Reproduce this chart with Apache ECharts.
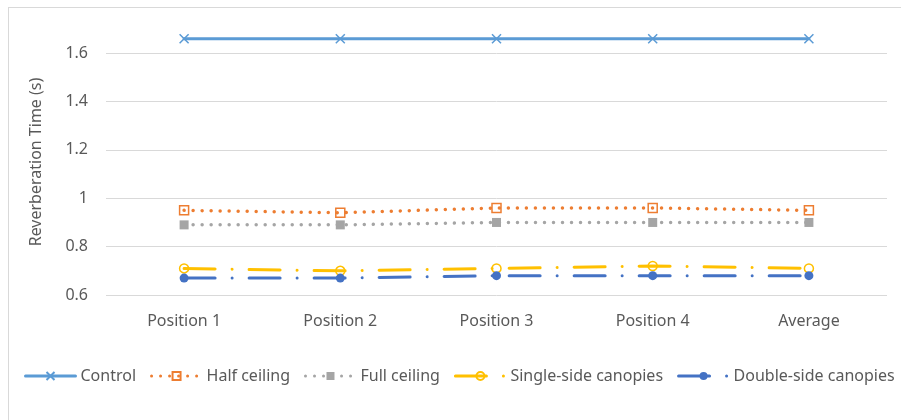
<!DOCTYPE html>
<html>
<head>
<meta charset="utf-8">
<script src="https://cdn.jsdelivr.net/npm/echarts@6/dist/echarts.min.js"></script>
<style>
  html, body { margin: 0; padding: 0; background: #fff; }
  #frame { position: absolute; left: 8px; top: 7px; width: 910px; height: 430px; border: 1px solid #d9d9d9; box-sizing: border-box; }
  #chart { position: absolute; left: 0; top: 0; width: 901px; height: 420px; }
</style>
</head>
<body>
<div id="frame"></div>
<div id="chart"></div>
<script>
  const categories = ['Position 1', 'Position 2', 'Position 3', 'Position 4', 'Average'];
  const control = [1.66, 1.66, 1.66, 1.66, 1.66];
  const halfCeiling = [0.95, 0.94, 0.96, 0.96, 0.95];
  const fullCeiling = [0.89, 0.89, 0.90, 0.90, 0.90];
  const singleSide = [0.71, 0.70, 0.71, 0.72, 0.71];
  const doubleSide = [0.67, 0.67, 0.68, 0.68, 0.68];

  const font = 'Noto Sans';
  const textColor = '#595959';
  const dashDot = [31, 17, 0.01, 17];
  const dotted = [0.01, 9];

  const chart = echarts.init(document.getElementById('chart'));

  function line(name, data, color, lineType, width, symbol, filled) {
    return {
      name, type: 'line', data,
      symbol, symbolSize: 9, showSymbol: true,
      lineStyle: { color, width, type: lineType, cap: 'round' },
      itemStyle: filled
        ? { color, borderColor: color, borderWidth: 0 }
        : { color: 'rgba(255,255,255,0)', borderColor: color, borderWidth: 1.5 },
      emphasis: { disabled: true },
      animation: false
    };
  }

  chart.setOption({
    animation: false,
    grid: { left: 106, right: 14, top: 29, bottom: 125 },
    legend: {
      bottom: 31, left: 19, width: 900, padding: 5,
      itemWidth: 50, itemHeight: 10, itemGap: 14,
      lineStyle: { width: 3 },
      textStyle: { color: textColor, fontSize: 16, fontFamily: font },
      data: ['Control', 'Half ceiling', 'Full ceiling', 'Single-side canopies', 'Double-side canopies']
    },
    xAxis: {
      type: 'category', data: categories, boundaryGap: true,
      axisLine: { show: false }, axisTick: { show: false },
      axisLabel: { color: textColor, fontSize: 16, fontFamily: font, margin: 18 }
    },
    yAxis: {
      type: 'value', min: 0.6, max: 1.7, interval: 0.2,
      name: 'Reverberation Time (s)', nameLocation: 'middle', nameGap: 62,
      nameTextStyle: { color: textColor, fontSize: 16, fontFamily: font },
      axisLine: { show: false }, axisTick: { show: false },
      axisLabel: { color: textColor, fontSize: 16, fontFamily: font, margin: 18, showMaxLabel: false,
        formatter: v => (Math.abs(v - 1.7) < 1e-6 ? '' : String(+v.toFixed(1))) },
      splitLine: { lineStyle: { color: '#d9d9d9', width: 1 }, showMaxLine: false }
    },
    series: [
      line('Control', control, '#5B9BD5', 'solid', 3, 'path://M0,0L10,10M10,0L0,10', false),
      line('Half ceiling', halfCeiling, '#ED7D31', dotted, 3.5, 'rect', false),
      line('Full ceiling', fullCeiling, '#A5A5A5', dotted, 3.5, 'rect', true),
      line('Single-side canopies', singleSide, '#FFC000', dashDot, 3, 'circle', false),
      line('Double-side canopies', doubleSide, '#4472C4', dashDot, 3, 'circle', true)
    ]
  });
</script>
</body>
</html>
